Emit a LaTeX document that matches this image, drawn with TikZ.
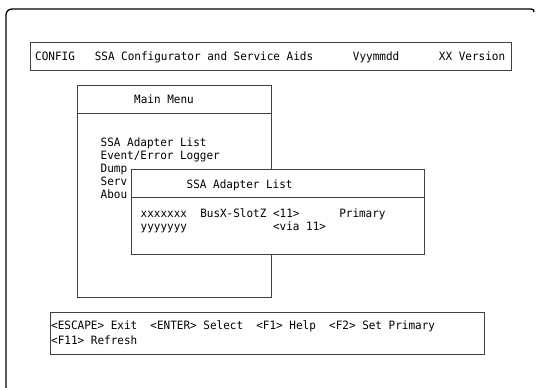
\documentclass[tikz,border=0pt]{standalone}
\usepackage{fontspec}
\newfontfamily\scr[FakeStretch=0.956]{DejaVu Sans Mono}
\begin{document}
\begin{tikzpicture}[x=1pt,y=-1pt,
  box/.style={draw=black!75,line width=0.7pt},
  txt/.style={anchor=base west,inner sep=0pt,font=\scr\fontsize{11.5}{13}\selectfont},
  frame/.style={draw=black,line width=1.3pt}]
\useasboundingbox (0,0) rectangle (538,388);
% outer frame
\draw[frame,rounded corners=6pt] (6,388) -- (6,9) -- (531,9);
\draw[frame] (531,9) .. controls (533,9) and (534,10) .. (534,12);
% title bar
\draw[box] (30,42) rectangle (511,70);
\node[txt] (t1) at (35,60) {CONFIG\ \ \ SSA Configurator and Service Aids\ \ \ \ \ \ Vyymmdd\ \ \ \ \ \ XX Version};
% main menu
\draw[box] (77,85) rectangle (271,297);
\draw[box] (77,113) -- (271,113);
\node[txt] (mm) at (134,103) {Main Menu};
\node[txt] (m1) at (100.5,146) {SSA Adapter List};
\node[txt] (m2) at (100.5,159) {Event/Error Logger};
\node[txt] (m3) at (100.5,172) {Dump};
\node[txt] (m4) at (100.5,185) {Serv};
\node[txt] (m5) at (100.5,198) {Abou};
% adapter list window
\draw[box,fill=white] (131,169) rectangle (424,254);
\draw[box] (131,197) -- (424,197);
\node[txt] (al) at (186.5,188) {SSA Adapter List};
\node[txt] (r1) at (140.5,217) {xxxxxxx\ \ BusX-SlotZ <11>\ \ \ \ \ \ Primary};
\node[txt] (r2) at (140.5,230) {yyyyyyy\ \ \ \ \ \ \ \ \ \ \ \ \ <via 11>};
% key bar
\draw[box] (50,312) rectangle (484,354);
\node[txt] (k1) at (51,329) {<ESCAPE> Exit\ \ <ENTER> Select\ \ <F1> Help\ \ <F2> Set Primary};
\node[txt] (k2) at (51,344) {<F11> Refresh};
\end{tikzpicture}
\end{document}
